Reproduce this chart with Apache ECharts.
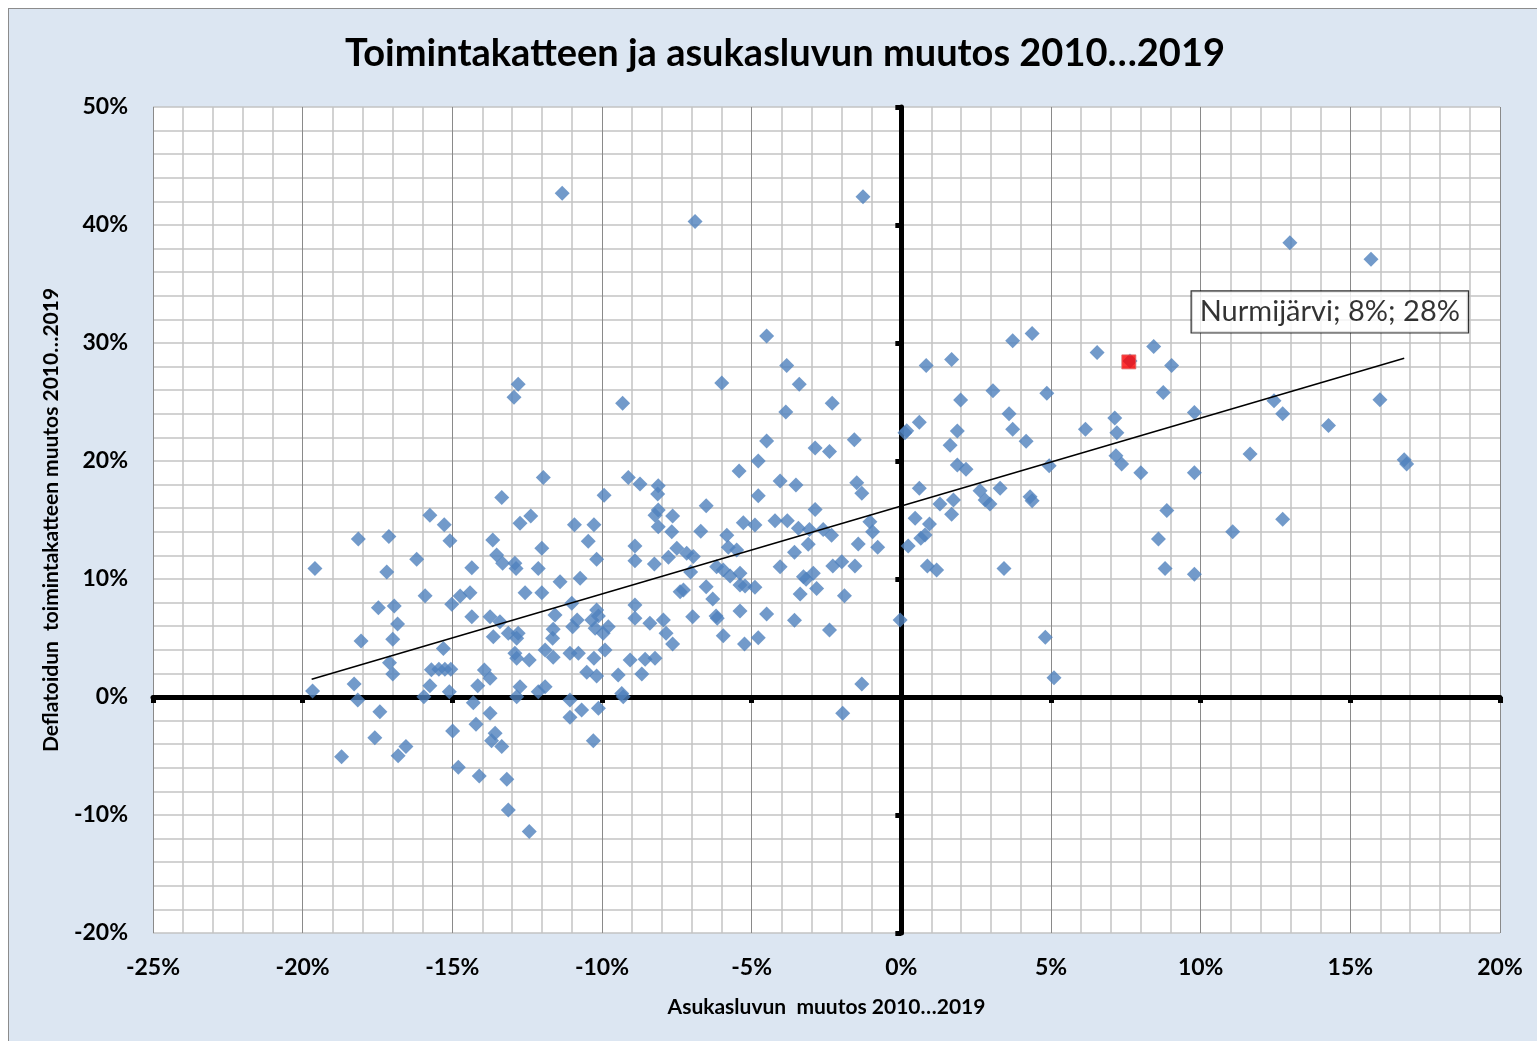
<!DOCTYPE html>
<html>
<head>
<meta charset="utf-8">
<title>Toimintakatteen ja asukasluvun muutos 2010…2019</title>
<script src="https://cdn.jsdelivr.net/npm/echarts@6/dist/echarts.min.js"></script>
<style>
body{margin:0;background:#fff;overflow:hidden;}
#frame{position:absolute;left:8px;top:8px;width:1540px;height:1040px;background:#dce6f2;border:1px solid #8c8c8c;}
#chart{position:absolute;left:0;top:0;width:1537px;height:1041px;}
</style>
</head>
<body>
<div id="frame"></div>
<div id="chart"></div>
<script>
var chartTitle = 'Toimintakatteen ja asukasluvun muutos 2010…2019';
var xTitle = 'Asukasluvun  muutos 2010…2019';
var yTitle = 'Deflatoidun  toimintakatteen muutos 2010…2019';

// [asukasluvun muutos %, toimintakatteen muutos %]
var municipalities = [
 [12.98,38.5],[15.69,37.1],[8.43,29.7],[9.03,28.1],[6.54,29.2],[4.37,30.8],[3.72,30.2],[1.68,28.6],
 [0.83,28.1],[8.75,25.8],[9.79,24.1],[12.45,25.1],[12.74,24.0],[14.27,23.0],[15.99,25.2],[11.65,20.6],
 [9.79,19.0],[16.8,20.1],[16.88,19.75],[8.87,15.8],[8.59,13.4],[11.07,14.0],[12.74,15.06],[8.81,10.9],
 [9.79,10.4],[3.06,25.96],[1.98,25.17],[4.86,25.74],[0.6,23.28],[0.12,22.4],[0.18,22.57],[1.87,22.54],
 [1.63,21.33],[3.6,24.0],[3.72,22.69],[4.17,21.67],[6.15,22.69],[7.13,23.64],[7.2,22.4],[1.87,19.66],
 [2.16,19.3],[4.94,19.6],[7.17,20.45],[7.36,19.75],[8.0,19.0],[0.6,17.69],[1.29,16.36],[1.74,16.69],
 [1.68,15.48],[2.63,17.48],[2.8,16.69],[2.96,16.36],[3.3,17.69],[4.3,16.97],[4.37,16.64],[0.46,15.14],
 [0.94,14.66],[0.65,13.45],[0.79,13.73],[0.23,12.8],[0.87,11.1],[1.18,10.76],[3.43,10.9],[-0.04,6.53],
 [4.81,5.06],[5.1,1.64],[7.64,28.47],
 [-11.33,42.7],[-6.89,40.3],[-12.8,26.5],[-12.94,25.4],[-9.31,24.9],[-11.96,18.6],[-9.12,18.6],[-8.73,18.05],
 [-8.12,17.9],[-1.28,42.4],
 [-4.5,30.6],[-6.0,26.6],[-3.83,28.1],[-3.41,26.5],[-3.86,24.15],[-2.31,24.9],[-4.5,21.7],[-2.88,21.1],
 [-2.4,20.8],[-1.57,21.8],[-4.78,20.0],[-5.42,19.15],[-4.05,18.3],[-3.52,17.97],[-1.49,18.16],[-1.32,17.26],
 [-4.78,17.06],[-6.52,16.2],[-2.88,15.9],[-6.7,14.05],[-5.28,14.77],[-4.89,14.58],[-4.22,14.94],[-3.81,14.94],
 [-3.44,14.3],[-3.07,14.2],[-2.61,14.2],[-2.33,13.7],[-1.05,14.86],[-0.96,14.0],[-0.79,12.7],[-1.44,12.97],
 [-5.83,13.7],[-5.78,12.7],[-5.5,12.46],[-3.57,12.26],[-3.11,12.94],[-6.17,11.04],[-5.95,10.76],[-5.72,10.25],
 [-5.39,10.48],[-5.39,9.49],[-5.22,9.4],[-4.89,9.3],[-4.05,11.04],[-3.27,10.2],[-3.18,9.97],[-2.94,10.48],
 [-3.38,8.73],[-2.83,9.2],[-2.29,11.1],[-1.99,11.46],[-1.55,11.1],[-1.9,8.58],[-6.52,9.35],[-6.3,8.3],
 [-6.19,6.86],[-6.15,6.67],[-5.39,7.29],[-4.5,7.03],[-3.57,6.5],[-5.95,5.2],[-5.24,4.5],[-4.78,5.03],
 [-2.4,5.68],[-1.32,1.1],[-1.96,-1.38],
 [-13.35,16.9],[-9.93,17.1],[-8.14,17.2],[-8.12,15.85],[-8.23,15.4],[-7.64,15.34],[-8.12,14.43],[-7.67,14.0],
 [-12.74,14.72],[-12.38,15.34],[-10.92,14.6],[-10.27,14.6],[-10.46,13.2],[-12.01,12.6],[-10.18,11.67],[-8.9,12.8],
 [-8.9,11.55],[-8.25,11.27],[-7.78,11.84],[-7.5,12.6],[-7.17,12.18],[-6.95,11.9],[-7.04,10.6],[-7.39,8.92],
 [-7.28,9.07],[-6.97,6.8],[-13.65,13.3],[-13.52,12.03],[-13.32,11.33],[-12.91,11.33],[-12.87,10.9],[-12.13,10.9],
 [-11.4,9.77],[-10.73,10.06],[-12.57,8.84],[-12.01,8.84],[-11.01,7.94],[-11.57,6.95],[-13.74,6.8],[-13.41,6.38],
 [-13.63,5.11],[-13.13,5.4],[-12.8,5.4],[-12.85,4.97],[-11.63,5.74],[-11.65,4.97],[-10.98,5.96],[-10.83,6.53],
 [-10.34,6.53],[-10.18,7.37],[-10.12,6.86],[-10.23,5.82],[-9.96,5.4],[-9.79,5.96],[-9.9,3.98],[-11.07,3.7],
 [-10.79,3.7],[-11.9,3.98],[-11.63,3.36],[-12.91,3.7],[-12.85,3.28],[-12.43,3.14],[-10.27,3.28],[-10.51,2.09],
 [-10.18,1.78],[-9.46,1.86],[-9.06,3.14],[-8.9,7.8],[-8.9,6.67],[-8.4,6.24],[-7.95,6.53],[-7.86,5.4],
 [-7.64,4.5],[-8.56,3.2],[-8.23,3.28],[-8.67,1.95],[-9.29,0.03],[-9.34,0.3],[-13.74,1.58],[-12.74,0.87],
 [-12.85,0.03],[-12.13,0.45],[-11.9,0.87],[-11.07,-0.25],[-10.68,-1.1],[-11.07,-1.72],[-10.12,-0.96],[-10.29,-3.7],
 [-13.74,-1.38],[-13.57,-3.08],[-13.69,-3.7],[-13.35,-4.2],[-13.18,-6.97],[-13.13,-9.58],[-12.43,-11.4],
 [-19.59,10.9],[-18.14,13.4],[-17.12,13.6],[-17.19,10.6],[-15.75,15.4],[-15.27,14.6],[-15.08,13.25],[-16.19,11.67],
 [-14.35,10.96],[-15.91,8.58],[-17.47,7.57],[-16.94,7.71],[-16.83,6.19],[-18.05,4.75],[-16.99,4.89],[-15.02,7.86],
 [-14.74,8.56],[-14.41,8.84],[-14.35,6.8],[-15.3,4.12],[-17.1,2.9],[-16.99,1.95],[-18.28,1.1],[-18.16,-0.25],
 [-19.67,0.5],[-17.42,-1.24],[-17.59,-3.45],[-18.7,-5.06],[-16.81,-4.97],[-16.55,-4.2],[-15.95,0.03],[-15.75,0.96],
 [-15.7,2.3],[-15.45,2.35],[-15.25,2.35],[-15.05,2.35],[-15.1,0.45],[-14.99,-2.88],[-14.8,-5.96],[-14.1,-6.69],
 [-13.93,2.29],[-14.15,0.96],[-14.3,-0.48],[-14.21,-2.31]
];

var highlightName = 'Nurmijärvi';
var highlightPoint = [7.6, 28.4];

var trendX = [-19.7, 16.8];
var trendY = [1.5, 28.7];

var fontName = 'Lato, "Liberation Sans", sans-serif';

var myChart = echarts.init(document.getElementById('chart'));

function pct(v){ return v + '%'; }

var option = {
	backgroundColor: 'transparent',
	animation: false,
	title: {
		text: chartTitle,
		left: 780,
		textAlign: 'center',
		top: 30,
		textStyle: {fontFamily: fontName, fontSize: 38, fontWeight: 'bold', color: '#000'}
	},
	grid: {left: 153, right: 37, top: 107, bottom: 108, show: true, backgroundColor: '#fff', borderWidth: 0},
	xAxis: [{
		type: 'value', min: -25, max: 20, interval: 5, z: 0,
		axisLine: {show: false, onZero: false},
		axisTick: {show: false},
		axisLabel: {formatter: pct, fontFamily: fontName, fontSize: 23, fontWeight: 'bold', color: '#000', margin: 23},
		splitLine: {show: true, lineStyle: {color: '#8a8a8a', width: 1}},
		minorTick: {show: false, splitNumber: 5},
		minorSplitLine: {show: true, lineStyle: {color: '#c3c3c3', width: 1.5}},
		name: xTitle, nameLocation: 'middle', nameGap: 64,
		nameTextStyle: {fontFamily: fontName, fontSize: 21, fontWeight: 'bold', color: '#000'}
	}, {
		// paksu nollaviiva
		type: 'value', min: -25, max: 20, interval: 5, position: 'bottom', z: 1,
		axisLine: {show: true, onZero: true, onZeroAxisIndex: 0, lineStyle: {color: '#000', width: 5}},
		axisTick: {show: true, length: 6, lineStyle: {color: '#000', width: 5}},
		axisLabel: {show: false},
		splitLine: {show: false}
	}],
	yAxis: [{
		type: 'value', min: -20, max: 50, interval: 10, z: 0,
		axisLine: {show: false, onZero: false},
		axisTick: {show: false},
		axisLabel: {formatter: pct, fontFamily: fontName, fontSize: 23, fontWeight: 'bold', color: '#000', margin: 25},
		splitLine: {show: true, lineStyle: {color: '#c3c3c3', width: 1.5}},
		minorTick: {show: false, splitNumber: 5},
		minorSplitLine: {show: true, lineStyle: {color: '#c3c3c3', width: 1.5}},
		name: yTitle, nameLocation: 'middle', nameGap: 91,
		nameTextStyle: {fontFamily: fontName, fontSize: 21, fontWeight: 'bold', color: '#000'}
	}, {
		type: 'value', min: -20, max: 50, interval: 10, position: 'left', z: 1,
		axisLine: {show: true, onZero: true, onZeroAxisIndex: 0, lineStyle: {color: '#000', width: 5}},
		axisTick: {show: true, length: 6, lineStyle: {color: '#000', width: 5}},
		axisLabel: {show: false},
		splitLine: {show: false}
	}],
	series: [{
		name: 'kunnat',
		type: 'scatter',
		symbol: 'diamond',
		symbolSize: 15,
		itemStyle: {color: '#4f81bd'},
		data: municipalities,
		z: 2
	}, {
		name: 'trendi',
		type: 'line',
		data: [[trendX[0], trendY[0]], [trendX[1], trendY[1]]],
		symbol: 'none',
		lineStyle: {color: '#000', width: 1.5},
		z: 3
	}, {
		name: highlightName,
		type: 'scatter',
		symbol: 'rect',
		symbolSize: 14,
		itemStyle: {color: '#ff0000', borderColor: '#d86a6a', borderWidth: 1},
		data: [{name: highlightName, value: highlightPoint}],
		label: {
			show: true,
			position: 'inside',
			offset: [201, -50],
			formatter: function(p){
				return p.name + '; ' + Math.round(p.value[0]) + '%; ' + Math.round(p.value[1]) + '%';
			},
			fontFamily: fontName,
			fontSize: 29,
			color: '#000',
			backgroundColor: '#fff',
			borderColor: '#000',
			borderWidth: 1.2,
			padding: [7, 8, 5, 8]
		},
		z: 4
	}]
};
myChart.setOption(option);
</script>
</body>
</html>
